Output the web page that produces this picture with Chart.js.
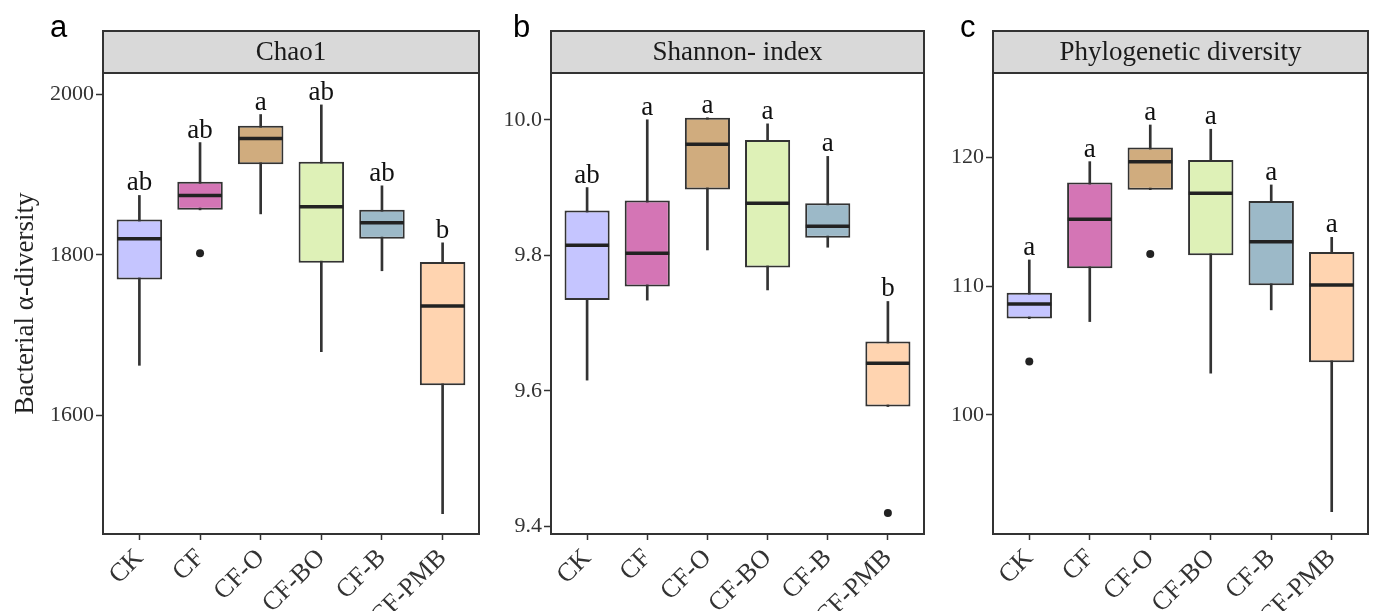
<!DOCTYPE html>
<html>
<head>
<meta charset="utf-8">
<script src="https://cdn.jsdelivr.net/npm/chart.js@4"></script>
<style>
  body { margin: 0; background: #fff; }
  .panel { position: absolute; top: 0; }
</style>
</head>
<body>
<canvas id="chaoChart" class="panel" style="left:0px" width="484" height="611"></canvas>
<canvas id="shannonChart" class="panel" style="left:484px" width="444" height="611"></canvas>
<canvas id="pdChart" class="panel" style="left:928px" width="445" height="611"></canvas>
<script>
const groups = ["CK", "CF", "CF-O", "CF-BO", "CF-B", "CF-PMB"];

// Chao1
const chaoLow = [1662, 1856, 1851, 1679, 1780, 1477];
const chaoQ1 = [1769, 1856, 1913, 1790, 1820, 1637];
const chaoMedian = [1820, 1874, 1945, 1860, 1840, 1736];
const chaoQ3 = [1844, 1891, 1961, 1916, 1856, 1791];
const chaoHigh = [1874, 1940, 1975, 1987, 1886, 1815];
const chaoOutliers = [[1, 1802]];
const chaoLetters = ["ab", "ab", "a", "ab", "ab", "b"];
const chaoTicks = [1600, 1800, 2000];

// Shannon index
const shannonLow = [9.616, 9.734, 9.808, 9.749, 9.812, 9.577];
const shannonQ1 = [9.734, 9.754, 9.897, 9.782, 9.826, 9.577];
const shannonMedian = [9.815, 9.803, 9.964, 9.877, 9.843, 9.641];
const shannonQ3 = [9.866, 9.881, 10.003, 9.970, 9.877, 9.673];
const shannonHigh = [9.900, 10.000, 10.003, 9.994, 9.946, 9.732];
const shannonOutliers = [[5, 9.420]];
const shannonLetters = ["ab", "a", "a", "a", "a", "b"];
const shannonTicks = [9.4, 9.6, 9.8, 10.0];

// Phylogenetic diversity
const pdLow = [107.49, 107.26, 117.51, 103.25, 108.17, 92.49];
const pdQ1 = [107.49, 111.41, 117.51, 112.42, 110.08, 104.10];
const pdMedian = [108.63, 115.21, 119.69, 117.23, 113.47, 110.11];
const pdQ3 = [109.51, 118.06, 120.78, 119.82, 116.64, 112.67];
const pdHigh = [112.05, 119.69, 122.54, 122.21, 117.88, 113.81];
const pdOutliers = [[0, 104.15], [2, 112.52]];
const pdLetters = ["a", "a", "a", "a", "a", "a"];
const pdTicks = [100, 110, 120];

const fillColors = ["#c5c5ff", "#d475b5", "#d0ac7e", "#def1b7", "#9cb9c8", "#ffd4b0"];
const lineColor = "#333333";

Chart.defaults.font.family = "'Liberation Serif', 'Times New Roman', serif";
Chart.defaults.color = "#333333";

// strip, frame, letters and panel tag
const facetPlugin = {
  id: "facet",
  afterDatasetsDraw(chart, args, opts) {
    const ctx = chart.ctx;
    const x = chart.scales.x;
    const y = chart.scales.y;
    ctx.save();
    ctx.fillStyle = "#111";
    ctx.font = "27px 'Liberation Serif', serif";
    ctx.textAlign = "center";
    ctx.textBaseline = "alphabetic";
    opts.letters.forEach((txt, i) => {
      const top = Math.max(opts.high[i], ...opts.outliers.filter(o => o[0] === i).map(o => o[1]));
      ctx.fillText(txt, x.getPixelForValue(i), y.getPixelForValue(top) - 5);
    });
    ctx.restore();
  },
  afterDraw(chart, args, opts) {
    const ctx = chart.ctx;
    const area = chart.chartArea;
    ctx.save();
    // strip
    ctx.fillStyle = "#d9d9d9";
    ctx.fillRect(area.left, 31, area.right - area.left, area.top - 31);
    ctx.strokeStyle = lineColor;
    ctx.lineWidth = 2;
    ctx.strokeRect(area.left, 31, area.right - area.left, area.top - 31);
    ctx.fillStyle = "#1a1a1a";
    ctx.font = "27px 'Liberation Serif', serif";
    ctx.textAlign = "center";
    ctx.textBaseline = "middle";
    ctx.fillText(opts.title, (area.left + area.right) / 2, (31 + area.top) / 2 + 1);
    // panel frame
    ctx.strokeRect(area.left, area.top, area.right - area.left, area.bottom - area.top);
    // tag
    ctx.fillStyle = "#000";
    ctx.font = "31px 'Liberation Sans', Arial, sans-serif";
    ctx.textAlign = "left";
    ctx.textBaseline = "alphabetic";
    ctx.fillText(opts.tag, opts.tagX, 37);
    ctx.restore();
  },
};

function makePanel(id, p) {
  const datasets = [
    {
      type: "bar",
      label: "box",
      order: 1,
      grouped: false,
      data: groups.map((g, i) => ({ x: i, y: [p.q1[i], p.q3[i]] })),
      backgroundColor: fillColors,
      borderColor: lineColor,
      borderWidth: 2,
      borderSkipped: false,
      barPercentage: 0.75,
      categoryPercentage: 1,
    },
    {
      type: "bar",
      label: "whisker",
      order: 2,
      grouped: false,
      data: groups.map((g, i) => ({ x: i, y: [p.low[i], p.high[i]] })),
      backgroundColor: lineColor,
      borderWidth: 0,
      barThickness: 2,
    },
    {
      type: "scatter",
      label: "median",
      order: 0,
      data: groups.map((g, i) => ({ x: i, y: p.median[i] })),
      pointStyle: "line",
      radius: 22,
      borderColor: "#222",
      borderWidth: 3.5,
    },
    {
      type: "scatter",
      label: "outlier",
      order: 0,
      data: p.outliers.map(o => ({ x: o[0], y: o[1] })),
      pointStyle: "circle",
      radius: 4,
      backgroundColor: "#222",
      borderColor: "#222",
      borderWidth: 0,
    },
  ];

  return new Chart(document.getElementById(id), {
    type: "bar",
    data: { datasets },
    plugins: [facetPlugin],
    options: {
      responsive: false,
      animation: false,
      events: [],
      layout: { autoPadding: false, padding: { top: 73, right: p.padRight, bottom: 0, left: 0 } },
      plugins: {
        legend: { display: false },
        tooltip: { enabled: false },
        facet: {
          title: p.title,
          tag: p.tag,
          tagX: p.tagX,
          letters: p.letters,
          high: p.high,
          outliers: p.outliers,
        },
      },
      scales: {
        x: {
          type: "linear",
          min: -0.6,
          max: 5.6,
          offset: false,
          afterBuildTicks: (scale) => {
            scale.ticks = groups.map((g, i) => ({ value: i }));
          },
          afterFit: (scale) => {
            scale.height = 77;
            scale.paddingLeft = 0;
            scale.paddingRight = 0;
          },
          border: { display: false },
          grid: { offset: false, drawOnChartArea: false, tickLength: 6, tickColor: lineColor, tickWidth: 1.5 },
          ticks: {
            autoSkip: false,
            minRotation: 45,
            maxRotation: 45,
            padding: 3,
            color: "#333",
            font: { size: 26 },
            callback: (v) => groups[v],
          },
        },
        y: {
          type: "linear",
          min: p.min,
          max: p.max,
          afterBuildTicks: (scale) => {
            scale.ticks = p.ticks.map(v => ({ value: v }));
          },
          afterFit: (scale) => {
            scale.width = p.axisWidth;
            scale.paddingTop = 0;
            scale.paddingBottom = 0;
          },
          border: { display: false },
          grid: { drawOnChartArea: false, tickLength: 7, tickColor: lineColor, tickWidth: 1.5 },
          title: {
            display: !!p.yTitle,
            text: p.yTitle || "",
            color: "#222",
            font: { size: 27 },
            padding: { top: 10, bottom: 0 },
          },
          ticks: {
            padding: 2,
            color: "#333",
            font: { size: 22 },
            callback: (v) => p.tickFmt(v),
          },
        },
      },
    },
  });
}

makePanel("chaoChart", {
  title: "Chao1", tag: "a", tagX: 50, axisWidth: 103, padRight: 5,
  yTitle: "Bacterial \u03b1-diversity",
  min: 1451.5, max: 2026.8, ticks: chaoTicks, tickFmt: v => String(v),
  low: chaoLow, q1: chaoQ1, median: chaoMedian, q3: chaoQ3, high: chaoHigh,
  outliers: chaoOutliers, letters: chaoLetters,
});

makePanel("shannonChart", {
  title: "Shannon- index", tag: "b", tagX: 29, axisWidth: 67, padRight: 4,
  min: 9.389, max: 10.069, ticks: shannonTicks, tickFmt: v => v.toFixed(1),
  low: shannonLow, q1: shannonQ1, median: shannonMedian, q3: shannonQ3, high: shannonHigh,
  outliers: shannonOutliers, letters: shannonLetters,
});

makePanel("pdChart", {
  title: "Phylogenetic diversity", tag: "c", tagX: 32, axisWidth: 65, padRight: 5,
  min: 90.75, max: 126.58, ticks: pdTicks, tickFmt: v => String(v),
  low: pdLow, q1: pdQ1, median: pdMedian, q3: pdQ3, high: pdHigh,
  outliers: pdOutliers, letters: pdLetters,
});
</script>
</body>
</html>
